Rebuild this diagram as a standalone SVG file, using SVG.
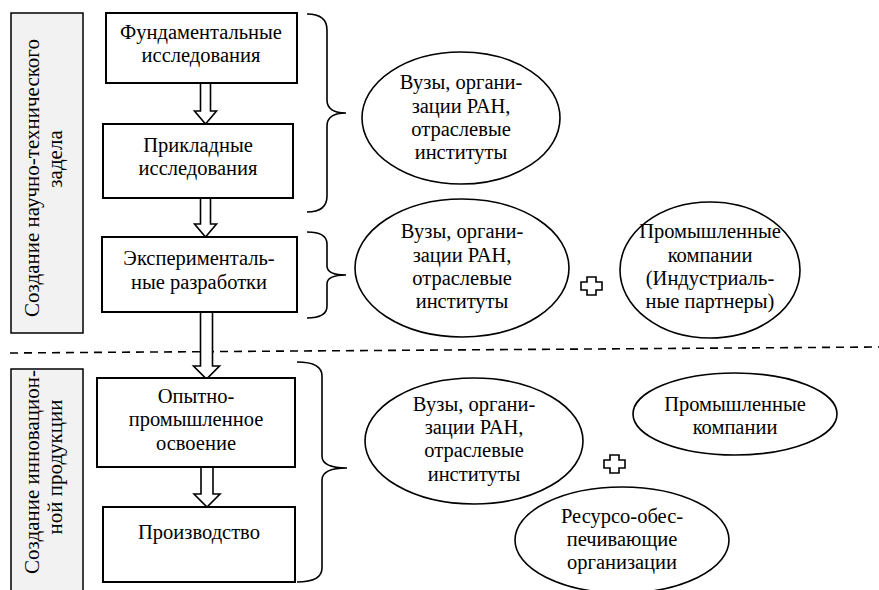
<svg xmlns="http://www.w3.org/2000/svg" width="879" height="590" viewBox="0 0 879 590">
<style>
text{font-family:'Liberation Serif','Times New Roman',serif;font-size:20.5px;fill:#000;text-anchor:middle}
text.v{font-size:21px}
.box{fill:#fff;stroke:#000;stroke-width:2}
.bar{fill:#f2f2f2;stroke:#000;stroke-width:1.5}
.ell{fill:#fff;stroke:#000;stroke-width:1.6}
.brace{fill:none;stroke:#000;stroke-width:1.6}
.arr{fill:#fff;stroke:#000;stroke-width:1.6;stroke-linejoin:miter}
.plus{fill:#fff;stroke:#000;stroke-width:1.6}
.dash{stroke:#000;stroke-width:1.6;stroke-dasharray:8,6;fill:none}
</style>
<g id="stage1">
<rect class="bar" x="11" y="13" width="72" height="320"/>
<text class="v" transform="translate(39,178) rotate(-90)">Создание научно-технического</text>
<text class="v" transform="translate(62,159) rotate(-90)">задела</text>
</g>
<g id="stage2">
<rect class="bar" x="11" y="369" width="72" height="224"/>
<text class="v" transform="translate(39,472) rotate(-90)">Создание инновацион-</text>
<text class="v" transform="translate(62,467) rotate(-90)">ной продукции</text>
</g>
<line class="dash" x1="10" y1="353" x2="879" y2="347"/>
<g id="connectors">
<polygon class="arr" points="200.5,83 210.5,83 210.5,111 216.5,111 205.5,124 194.5,111 200.5,111"/>
<polygon class="arr" points="200.5,198 210.5,198 210.5,224 216.5,224 205.5,237 194.5,224 200.5,224"/>
<polygon class="arr" points="200.5,312 212.5,312 212.5,366 219.5,366 206.5,379 193.5,366 200.5,366"/>
<polygon class="arr" points="201,467 213,467 213,494 220,494 207,507 194,494 201,494"/>
<path class="brace" d="M307,14 Q327,14 327,30 L327,100 Q327,113 346,113 Q327,113 327,126 L327,196 Q327,212 307,212"/>
<path class="brace" d="M307,232 Q327,232 327,244 L327,266 Q327,275 346,275 Q327,275 327,284 L327,306 Q327,318 307,318"/>
<path class="brace" d="M297,362 Q322,362 322,376 L322,456 Q322,468 347,468 Q322,468 322,480 L322,568 Q322,582 297,582"/>
<path class="plus" d="M587,277 h9 v5 h6 v8 h-6 v5 h-9 v-5 h-6 v-8 h6 z"/>
<path class="plus" d="M610,455 h9 v5 h6 v8 h-6 v5 h-9 v-5 h-6 v-8 h6 z"/>
</g>
<g id="n1">
<rect class="box" x="106" y="13" width="191" height="70"/>
<text x="201" y="39">Фундаментальные</text>
<text x="201" y="62">исследования</text>
</g>
<g id="n2">
<rect class="box" x="103" y="124" width="190" height="74"/>
<text x="198" y="152">Прикладные</text>
<text x="198" y="175">исследования</text>
</g>
<g id="n3">
<rect class="box" x="102" y="237" width="195" height="75"/>
<text x="199" y="265">Эксперименталь-</text>
<text x="199" y="289">ные разработки</text>
</g>
<g id="n4">
<rect class="box" x="97" y="378" width="198" height="89"/>
<text x="196" y="403">Опытно-</text>
<text x="196" y="426">промышленное</text>
<text x="196" y="450">освоение</text>
</g>
<g id="n5">
<rect class="box" x="103" y="507" width="192" height="75"/>
<text x="199" y="539">Производство</text>
</g>
<g id="e1">
<ellipse class="ell" cx="461" cy="118" rx="99" ry="66"/>
<text x="461" y="89">Вузы, органи-</text>
<text x="461" y="113">зации РАН,</text>
<text x="461" y="136">отраслевые</text>
<text x="461" y="159">институты</text>
</g>
<g id="e2">
<ellipse class="ell" cx="462" cy="268" rx="107" ry="69"/>
<text x="462" y="238">Вузы, органи-</text>
<text x="462" y="262">зации РАН,</text>
<text x="462" y="285">отраслевые</text>
<text x="462" y="308">институты</text>
</g>
<g id="e3">
<ellipse class="ell" cx="710" cy="270" rx="90" ry="68"/>
<text x="710" y="238">Промышленные</text>
<text x="710" y="262">компании</text>
<text x="710" y="285">(Индустриаль-</text>
<text x="710" y="308">ные партнеры)</text>
</g>
<g id="e4">
<ellipse class="ell" cx="474" cy="441" rx="109" ry="63"/>
<text x="474" y="411">Вузы, органи-</text>
<text x="474" y="434">зации РАН,</text>
<text x="474" y="457">отраслевые</text>
<text x="474" y="481">институты</text>
</g>
<g id="e5">
<ellipse class="ell" cx="735" cy="414" rx="102" ry="41"/>
<text x="735" y="411">Промышленные</text>
<text x="735" y="434">компании</text>
</g>
<g id="e6">
<ellipse class="ell" cx="622" cy="540" rx="107" ry="53"/>
<text x="622" y="523">Ресурсо-обес-</text>
<text x="622" y="546">печивающие</text>
<text x="622" y="569">организации</text>
</g>
</svg>
